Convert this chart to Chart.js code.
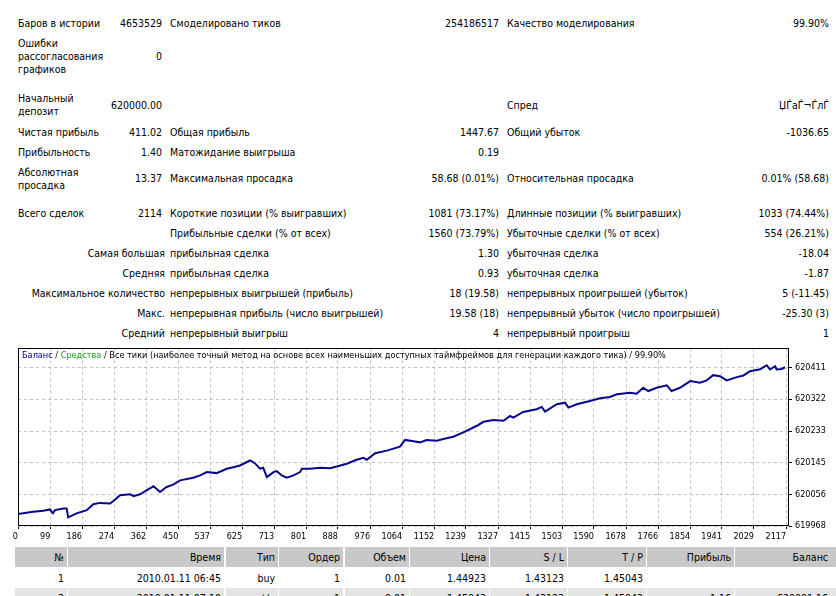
<!DOCTYPE html>
<html><head><meta charset="utf-8">
<script src="https://cdn.jsdelivr.net/npm/chart.js@4/dist/chart.umd.min.js"></script>
<style>
html,body{margin:0;padding:0;background:#fff;width:836px;height:596px;overflow:hidden;}
body{position:relative;font-family:"DejaVu Sans Condensed","Liberation Sans",sans-serif;font-size:10.5px;color:#000;}
.c{position:absolute;white-space:nowrap;line-height:13px;}
.tc{position:absolute;white-space:nowrap;line-height:20px;height:20px;text-align:right;box-sizing:border-box;padding-right:3px;overflow:hidden;}
#chartWrap{position:absolute;left:0;top:340px;width:836px;height:205px;}
#legendTxt{position:absolute;left:22px;top:349px;line-height:13px;white-space:nowrap;font-family:"DejaVu Sans Condensed",sans-serif;font-size:9.1px;color:#000;}
</style>
</head><body>
<div id="stats"></div>
<div id="chartWrap"><canvas id="cv" width="836" height="205"></canvas></div>
<div id="legendTxt"><span style="color:#000080">Баланс</span> / <span style="color:#1fa01f">Средства</span> / Все тики (наиболее точный метод на основе всех наименьших доступных таймфреймов для генерации каждого тика) / 99.90%</div>
<div id="trades"></div>
<script>
// ---- chart data ----
const tradeNo = [0,52,80,98,106,112,135,144,148,171,199,217,235,263,277,290,318,327,345,363,382,400,418,436,455,491,510,528,555,583,601,619,647,660,674,683,693,711,720,734,747,766,784,789,811,839,866,885,912,939,958,967,990,1022,1058,1072,1095,1113,1131,1159,1177,1204,1232,1269,1287,1314,1342,1360,1369,1396,1433,1447,1456,1488,1511,1520,1543,1579,1607,1634,1653,1689,1707,1725,1739,1762,1790,1803,1826,1854,1881,1899,1917,1936,1954,1982,2000,2018,2046,2064,2073,2087,2091,2105,2114];
const balance = [620000,620007.6,620010.4,620014.2,620003.2,620012.3,620017,620017,619992.1,620003.2,620012.3,620028.9,620032.5,620030.9,620041.9,620053.8,620056.6,620051.1,620056.6,620067.7,620078.8,620063,620076.8,620083.5,620095.4,620102.8,620109.2,620118.4,620115.6,620127.8,620132.2,620136.9,620150.8,620143.3,620127.8,620130.5,620104.5,620118.4,620121.1,620109.2,620102.8,620109.2,620118.4,620127.8,620127.8,620130.5,620129.4,620134.1,620141.6,620152.7,620158.2,620152.7,620171,620178.4,620189.5,620208.1,620204.2,620201.4,620208.1,620206.1,620210.8,620217.2,620229.1,620247.7,620258.7,620263.5,620261.5,620275.4,620270.7,620286.4,620293.9,620300.3,620287.3,620307.8,620312.2,620298.4,620307.8,620316.9,620324.4,620328,620335.5,620339.9,620337.1,620353.7,620344.6,620353.7,620360.4,620344.6,620353.7,620372.3,620367.6,620374.2,620388.9,620386.1,620374.2,620383.4,620388.1,620400,620405.5,620416.6,620404.7,620413.8,620404.7,620406.3,620411.02];
const xTickLabels = ['0','99','186','274','362','450','537','625','713','801','888','976','1064','1152','1239','1327','1415','1503','1590','1678','1766','1854','1941','2029','2117'];
const yTickValues = [619968,620056,620145,620233,620322,620411];

// ---- report text ----
const statRows = [
  {y:23,  c:['Баров в истории','4653529','Смоделировано тиков','254186517','Качество моделирования','99.90%']},
  {y:56,  c:['Ошибки\nрассогласования\nграфиков','0','','','','']},
  {y:104.5,c:['Начальный\nдепозит','620000.00','','','Спред','ЏЃаЃ¬ЃлЃ']},
  {y:131.5,c:['Чистая прибыль','411.02','Общая прибыль','1447.67','Общий убыток','-1036.65']},
  {y:151.5,c:['Прибыльность','1.40','Матожидание выигрыша','0.19','','']},
  {y:178, c:['Абсолютная\nпросадка','13.37','Максимальная просадка','58.68 (0.01%)','Относительная просадка','0.01% (58.68)']},
  {y:213, c:['Всего сделок','2114','Короткие позиции (% выигравших)','1081 (73.17%)','Длинные позиции (% выигравших)','1033 (74.44%)']},
  {y:233, c:['','','Прибыльные сделки (% от всех)','1560 (73.79%)','Убыточные сделки (% от всех)','554 (26.21%)']},
  {y:253, r:['Самая большая','прибыльная сделка','1.30','убыточная сделка','-18.04']},
  {y:273, r:['Средняя','прибыльная сделка','0.93','убыточная сделка','-1.87']},
  {y:293, r:['Максимальное количество','непрерывных выигрышей (прибыль)','18 (19.58)','непрерывных проигрышей (убыток)','5 (-11.45)']},
  {y:313, r:['Макс.','непрерывная прибыль (число выигрышей)','19.58 (18)','непрерывный убыток (число проигрышей)','-25.30 (3)']},
  {y:333, r:['Средний','непрерывный выигрыш','4','непрерывный проигрыш','1']}
];
const stats = document.getElementById('stats');
function cell(text, x, yc, align){
  if(!text) return;
  const lines = text.split('\n');
  const d = document.createElement('div');
  d.className = 'c';
  d.innerHTML = lines.map(s=>s.replace(/&/g,'&amp;').replace(/</g,'&lt;')).join('<br>');
  const top = yc - lines.length*13/2 + 0.5;
  d.style.top = top + 'px';
  if(align === 'r'){ d.style.left = (x-400)+'px'; d.style.width='400px'; d.style.textAlign='right'; }
  else { d.style.left = x + 'px'; }
  stats.appendChild(d);
}
statRows.forEach(row=>{
  if(row.c){
    const [a,b,c,d,e,f] = row.c;
    cell(a,18,row.y,'l'); cell(b,162,row.y,'r'); cell(c,170,row.y,'l');
    cell(d,499,row.y,'r'); cell(e,507,row.y,'l'); cell(f,829,row.y,'r');
  } else {
    const [a,c,d,e,f] = row.r;
    cell(a,165,row.y,'r'); cell(c,170,row.y,'l'); cell(d,499,row.y,'r');
    cell(e,507,row.y,'l'); cell(f,829,row.y,'r');
  }
});

// ---- trades table ----
const tradeCols = [[15,67],[68,224],[226,278],[279,343],[345,409],[410,489],[490,567],[568,646],[647,734],[735,840]];
const tradeHeader = ['№','Время','Тип','Ордер','Объем','Цена','S / L','T / P','Прибыль','Баланс'];
const tradeRows = [
  ['1','2010.01.11 06:45','buy','1','0.01','1.44923','1.43123','1.45043','',''],
  ['2','2010.01.11 07:10','t/p','1','0.01','1.45043','1.43123','1.45043','1.16','620001.16']
];
const trades = document.getElementById('trades');
function trow(vals, top, bg){
  vals.forEach((v,i)=>{
    const [l,r] = tradeCols[i];
    const d = document.createElement('div');
    d.className='tc';
    d.style.left=l+'px'; d.style.width=(r-l)+'px'; d.style.top=top+'px';
    if(bg) d.style.background=bg;
    if(i===9) d.style.paddingRight='12px';
    d.textContent=v;
    trades.appendChild(d);
  });
}
trow(tradeHeader,547,'#c8c8c8');
trow(tradeRows[0],568,null);
trow(tradeRows[1],588,'#e4e4e4');

// ---- chart ----
const axisFont = {family:'"DejaVu Sans Condensed",sans-serif', size:9};
const framePlugin = {
  id:'frame',
  afterDraw(chart){
    const {ctx, chartArea:a} = chart;
    ctx.save();
    ctx.setLineDash([]);
    ctx.strokeStyle='#000'; ctx.lineWidth=1;
    ctx.strokeRect(Math.round(a.left)+0.5, Math.round(a.top)+0.5, Math.round(a.right-a.left)-1, Math.round(a.bottom-a.top)-1);
    ctx.restore();
  }
};
new Chart(document.getElementById('cv'), {
  type:'line',
  data:{datasets:[{
    data: tradeNo.map((t,i)=>({x:t,y:balance[i]})),
    borderColor:'#08088c', borderWidth:2, pointRadius:0, tension:0, fill:false
  }]},
  options:{
    responsive:false, animation:false, maintainAspectRatio:false,
    layout:{padding:{left:18,top:7,right:0,bottom:0}},
    plugins:{legend:{display:false}, tooltip:{enabled:false}, title:{display:false}},
    scales:{
      x:{
        type:'linear', min:10.4, max:2125,
        afterBuildTicks: s => { s.ticks = xTickLabels.map(l => ({value: Math.max(Number(l), s.min)})); },
        afterFit: s => { s.height = 19; },
        ticks:{autoSkip:false, maxRotation:0, minRotation:0, align:'end', padding:2, color:'#000', font:axisFont,
          callback:(v,i)=>xTickLabels[i]},
        grid:{color:'#c4c4c4', tickColor:'#000', tickLength:3, drawTicks:true, lineWidth:1},
        border:{display:false, dash:[3,3]}
      },
      y:{
        position:'right', min:619968, max:620463.6,
        afterBuildTicks: s => { s.ticks = yTickValues.map(v => ({value:v})); },
        afterFit: s => { s.width = 47; },
        ticks:{padding:3, color:'#000', font:axisFont, callback:v=>String(v)},
        grid:{color:'#c4c4c4', tickColor:'#000', tickLength:3, drawTicks:true, lineWidth:1},
        border:{display:false, dash:[3,3]}
      }
    }
  },
  plugins:[framePlugin]
});
</script>
</body></html>
